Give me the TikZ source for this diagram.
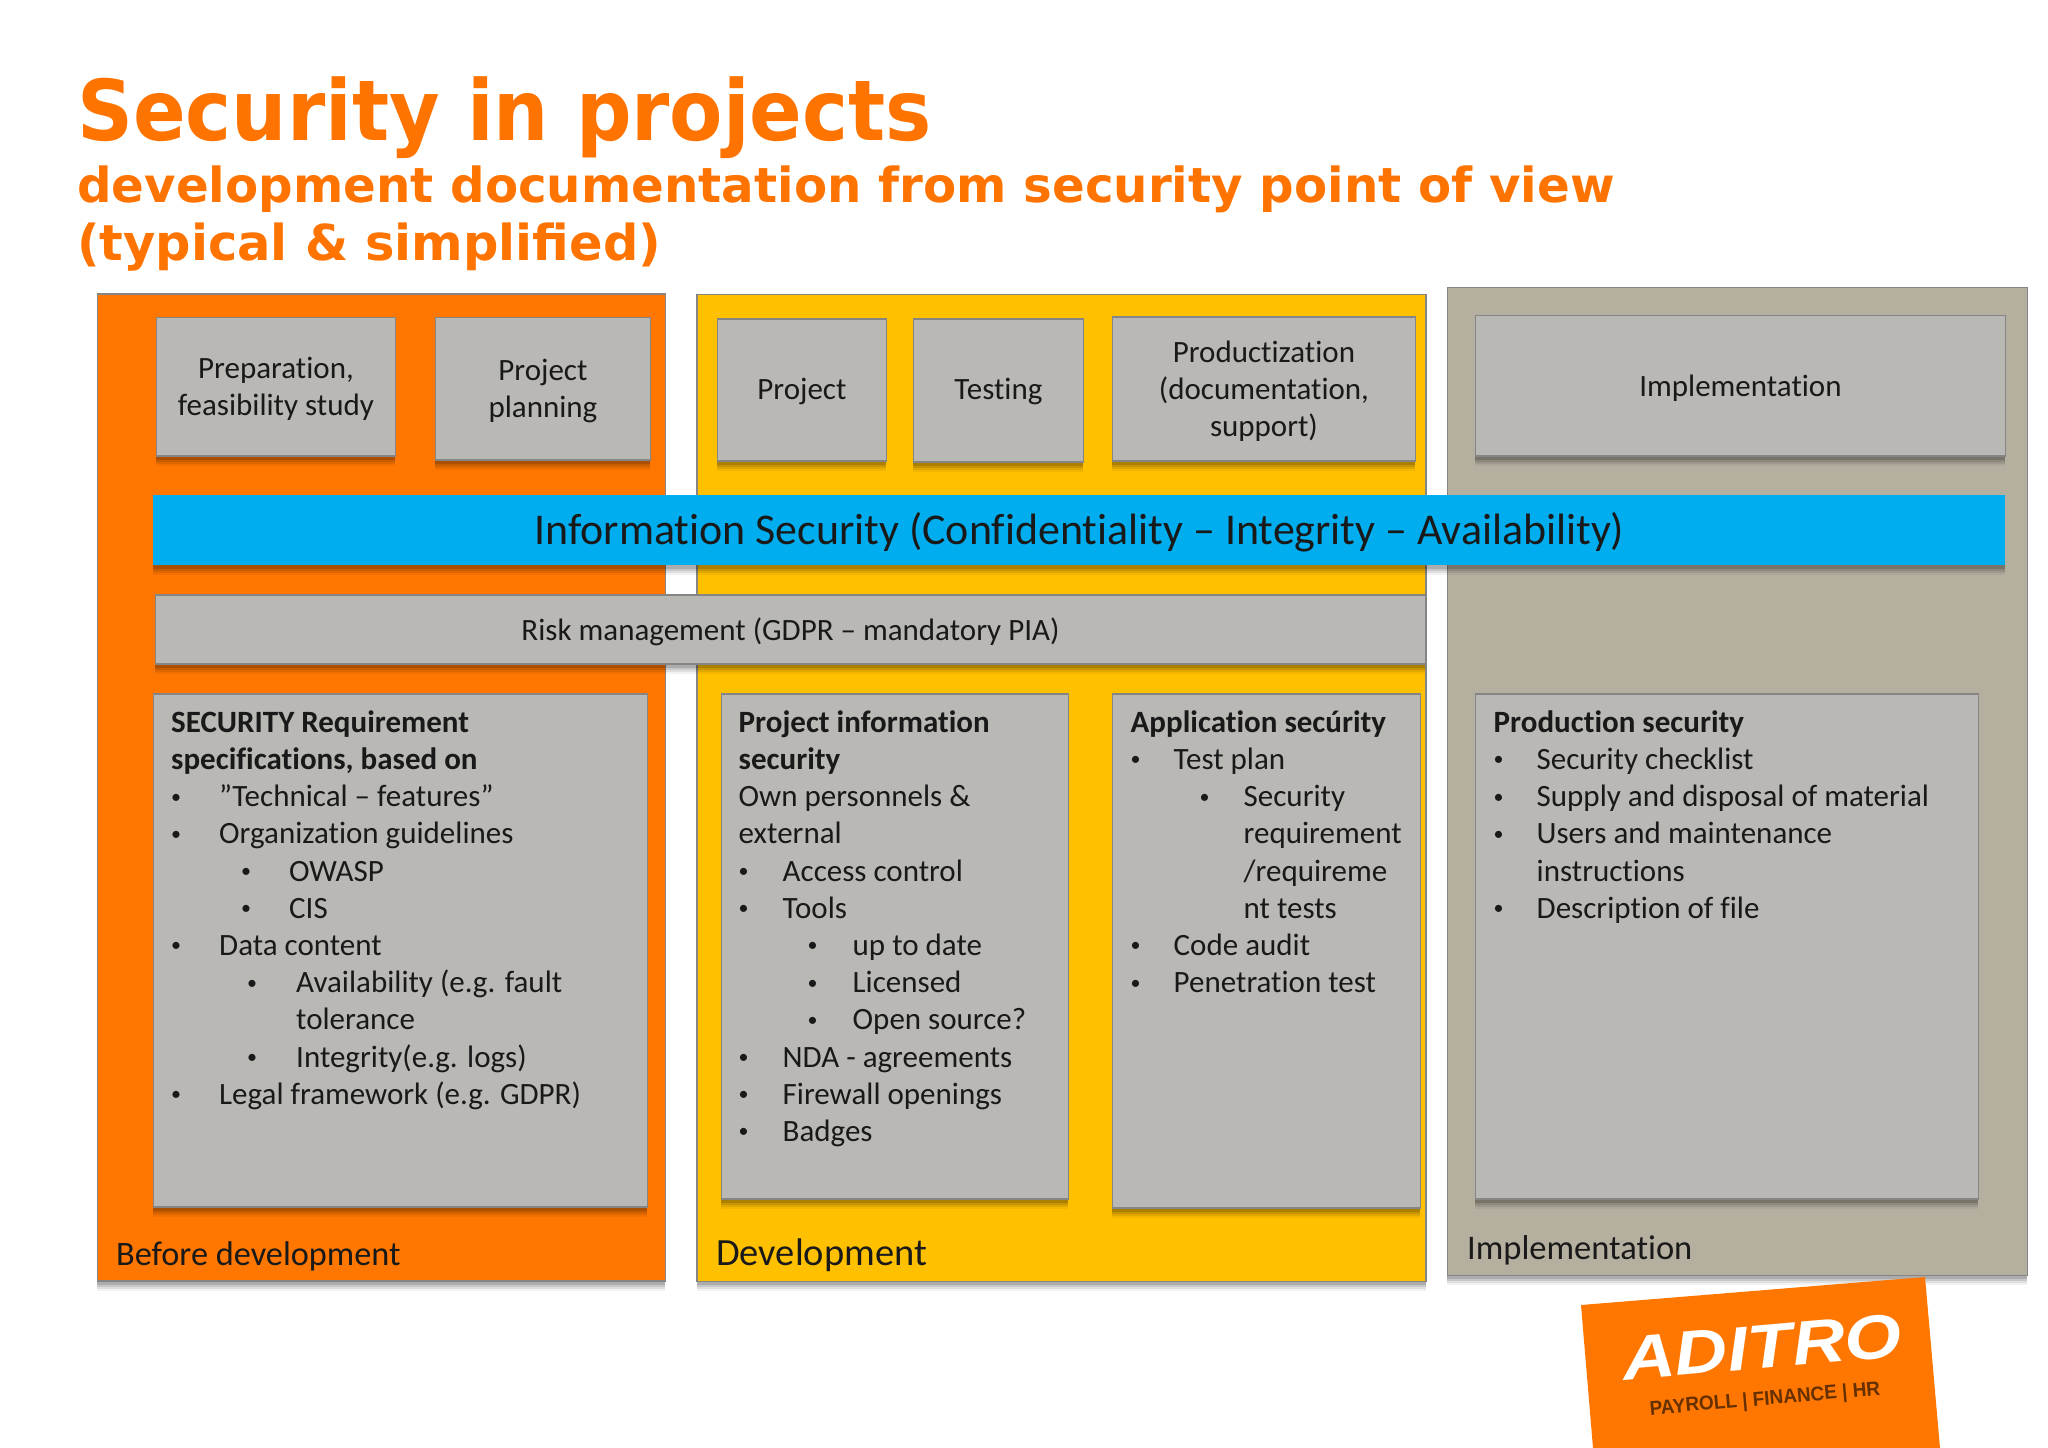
\documentclass[tikz,border=0pt]{standalone}
\usepackage{fontspec}
\setmainfont{Carlito}[Ligatures=NoCommon]
\newfontfamily\titlefont{DejaVu Sans}
\newfontfamily\logofont{Liberation Sans}
\usetikzlibrary{shadows,positioning}
\definecolor{orangeP}{HTML}{FF7700}
\definecolor{yellowP}{HTML}{FFC000}
\definecolor{tanP}{HTML}{B5AFA0}
\definecolor{greyB}{HTML}{B9B8B4}
\definecolor{blueB}{HTML}{00AEEF}
\definecolor{edgeB}{HTML}{858585}
\definecolor{titleC}{HTML}{FF7300}
\newcommand\bul[3]{\makebox[0pt][l]{\hspace*{#1pt}\raisebox{3.5pt}{\fontsize{20}{20}\selectfont •}}\hspace*{#2pt}#3}
\newcommand\cont[2]{\hspace*{#1pt}#2}
\newcommand\fl{\rule{0pt}{26pt}}
\tikzset{
  softshadow/.style={general shadow={shadow yshift=-10pt,opacity=.05,fill=black},
                     general shadow={shadow yshift=-8pt,opacity=.08,fill=black},
                     general shadow={shadow yshift=-6pt,opacity=.10,fill=black},
                     general shadow={shadow yshift=-4pt,opacity=.14,fill=black}},
  panel/.style={draw=edgeB,line width=1.5pt,anchor=north west,inner sep=0pt,softshadow},
  gbox/.style={panel,fill=greyB},
  boxtext/.style={inner sep=0pt,align=center,font=\fontsize{31}{37.2}\selectfont,text=black!90},
  listtext/.style={anchor=north west,inner sep=0pt,align=left,font=\fontsize{31}{37.2}\selectfont,text=black!90},
  tit/.style={anchor=base west,inner sep=0pt,text=titleC,font=\titlefont\bfseries},
  caption/.style={anchor=base west,inner sep=0pt,text=black!90}
}
\newcommand\bx[7][]{\node[gbox,#1,minimum width=#4pt-#2pt,minimum height=#5pt-#3pt] (#6) at (#2,#3) {};}
\newcommand\bt[3][]{\node[boxtext,#1] (#2-t) at ([yshift=-2.6pt]#2.center) {#3};}
\begin{document}
\begin{tikzpicture}[x=1pt,y=-1pt]
\useasboundingbox (0,0) rectangle (2048,1448);
\node[tit,xscale=.925,font=\titlefont\bfseries\fontsize{84}{90}\selectfont] (title) at (77,140) {Security in projects};
\node[tit,font=\titlefont\bfseries\fontsize{48.3}{55}\selectfont] (sub1) at (77,202) {development documentation from security point of view};
\node[tit,font=\titlefont\bfseries\fontsize{49.5}{55}\selectfont] (sub2) at (77,260) {(typical \& simplified)};
\begin{scope}[xshift=-1.3pt]
% panels
\node[panel,fill=orangeP,minimum width=568pt,minimum height=987pt] (pBefore) at (98,293) {};
\node[panel,fill=yellowP,minimum width=729pt,minimum height=987pt] (pDev) at (697.5,293.5) {};
\node[panel,fill=tanP,minimum width=580pt,minimum height=988pt] (pImpl) at (1448,286.5) {};
% top boxes
\bx{157}{316.5}{396}{455}{prep}{}
\bt{prep}{Preparation,\\feasibility study}
\bx{436}{316.5}{651}{459}{plan}{}
\bt{plan}{Project\\planning}
\bx{718}{318}{887}{460}{proj}{}
\bt[yshift=1.2pt]{proj}{Project}
\bx{914}{318}{1084}{461}{test}{}
\bt[yshift=1.2pt]{test}{Testing}
\bx{1113}{316}{1416}{460}{prod}{}
\bt{prod}{Productization\\(documentation,\\support)}
\bx{1476}{314.5}{2006}{455}{impl}{}
\bt{impl}{Implementation}
% bars
\bx[fill=blueB,draw=none]{154}{494}{2006}{564}{infosec}{}
\bt[font=\fontsize{43.9}{50}\selectfont]{infosec}{Information Security (Confidentiality – Integrity – Availability)}
\bx{156}{594}{1426}{663}{risk}{}
\bt{risk}{Risk management (GDPR – mandatory PIA)}
% lower boxes
\bx{154}{693}{648}{1206}{req}{}
\bx{722}{693}{1069}{1198}{pinfo}{}
\bx{1113}{693}{1421}{1207}{app}{}
\bx{1476}{693}{1979}{1198}{psec}{}
\end{scope}
\node[listtext] (reqT) at (171,706) {\fl\textbf{SECURITY Requirement}\\
\textbf{specifications, based on}\\
\bul{0}{48}{”Technical – features”}\\
\bul{0}{48}{Organization guidelines}\\
\bul{70}{118}{OWASP}\\
\bul{70}{118}{CIS}\\
\bul{0}{48}{Data content}\\
\bul{76}{125}{Availability (e.g. fault}\\
\cont{125}{tolerance}\\
\bul{76}{125}{Integrity(e.g. logs)}\\
\bul{0}{48}{Legal framework (e.g. GDPR)}};
\node[listtext] (pinfoT) at (738.5,706) {\fl\textbf{Project information}\\
\textbf{security}\\
Own personnels \&\\
external\\
\bul{0}{44}{Access control}\\
\bul{0}{44}{Tools}\\
\bul{69}{114}{up to date}\\
\bul{69}{114}{Licensed}\\
\bul{69}{114}{Open source?}\\
\bul{0}{44}{NDA - agreements}\\
\bul{0}{44}{Firewall openings}\\
\bul{0}{44}{Badges}};
\node[listtext] (appT) at (1130.5,706) {\fl\textbf{Application secúrity}\\
\bul{0}{43}{Test plan}\\
\bul{69}{113}{Security}\\
\cont{113}{requirement}\\
\cont{113}{/requireme}\\
\cont{113}{nt tests}\\
\bul{0}{43}{Code audit}\\
\bul{0}{43}{Penetration test}};
\node[listtext] (psecT) at (1493.5,706) {\fl\textbf{Production security}\\
\bul{0}{43}{Security checklist}\\
\bul{0}{43}{Supply and disposal of material}\\
\bul{0}{43}{Users and maintenance}\\
\cont{43}{instructions}\\
\bul{0}{43}{Description of file}};
% captions
\node[caption,font=\fontsize{34.3}{37}\selectfont] (capB) at (116,1265) {Before development};
\node[caption,font=\fontsize{38.5}{42}\selectfont] (capD) at (716,1265) {Development};
\node[caption,font=\fontsize{34.5}{40}\selectfont] (capI) at (1467,1259) {Implementation};
% logo
\fill[orangeP] (1581,1305) -- (1925,1277) -- (1940,1448) -- (1593,1448) -- cycle;
\node[rotate=5,inner sep=0pt,text=white,xscale=1.18,font=\logofont\bfseries\itshape\fontsize{62}{66}\selectfont] (logoA) at (1762,1347) {ADITRO};
\node[rotate=5,inner sep=0pt,text=orangeP!40!black,xscale=.95,font=\logofont\bfseries\fontsize{20}{24}\selectfont] (logoB) at (1765,1400) {PAYROLL | FINANCE | HR};
\end{tikzpicture}
\end{document}
